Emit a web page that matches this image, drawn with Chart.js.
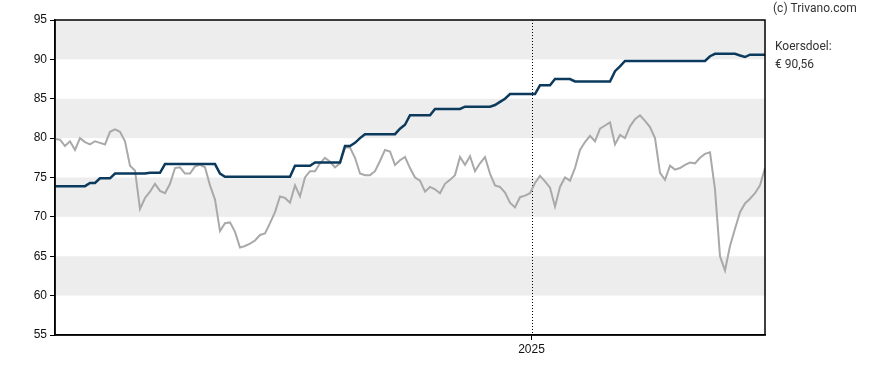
<!DOCTYPE html>
<html>
<head>
<meta charset="utf-8">
<script src="https://cdn.jsdelivr.net/npm/chart.js@4/dist/chart.umd.min.js"></script>
<style>
  html, body { margin: 0; padding: 0; background: #fff; }
  #wrap { width: 888px; height: 370px; position: relative; }
</style>
</head>
<body>
<div id="wrap"><canvas id="koersChart" width="888" height="370"></canvas></div>
<script>
// koers (grijs), één waarde per stap
var koers = [
    79.9, 79.8, 79.0, 79.6, 78.5, 80.0, 79.5, 79.2, 79.6, 79.4,
    79.2, 80.8, 81.1, 80.8, 79.6, 76.5, 75.9, 71.0, 72.4, 73.2,
    74.2, 73.3, 73.0, 74.2, 76.2, 76.3, 75.5, 75.5, 76.4, 76.6,
    76.3, 74.0, 72.2, 68.2, 69.2, 69.3, 68.1, 66.1, 66.3, 66.6,
    67.0, 67.7, 67.9, 69.2, 70.6, 72.6, 72.4, 71.8, 74.0, 72.6,
    75.0, 75.8, 75.8, 76.8, 77.5, 77.0, 76.3, 76.8, 78.8, 78.8,
    77.5, 75.5, 75.3, 75.3, 75.8, 77.1, 78.5, 78.3, 76.6, 77.2,
    77.6, 76.2, 75.0, 74.6, 73.2, 73.8, 73.5, 73.0, 74.2, 74.7,
    75.3, 77.6, 76.6, 77.7, 75.8, 76.8, 77.6, 75.5, 74.0, 73.8,
    73.1, 71.8, 71.2, 72.5, 72.7, 73.0, 74.3, 75.2, 74.5, 73.7,
    71.3, 73.8, 75.0, 74.6, 76.2, 78.5, 79.5, 80.3, 79.6, 81.2,
    81.6, 82.0, 79.2, 80.4, 80.0, 81.5, 82.4, 82.9, 82.2, 81.4,
    80.0, 75.6, 74.7, 76.5, 76.0, 76.2, 76.6, 76.9, 76.8, 77.5,
    78.0, 78.2, 73.5, 65.0, 63.2, 66.3, 68.5, 70.6, 71.7, 72.3,
    73.0, 74.0, 76.2
];

// koersdoel (donkerblauw)
var koersdoel = [
    73.9, 73.9, 73.9, 73.9, 73.9, 73.9, 73.9, 74.3, 74.3, 74.9,
    74.9, 74.9, 75.5, 75.5, 75.5, 75.5, 75.5, 75.5, 75.5, 75.6,
    75.6, 75.6, 76.7, 76.7, 76.7, 76.7, 76.7, 76.7, 76.7, 76.7,
    76.7, 76.7, 76.7, 75.5, 75.1, 75.1, 75.1, 75.1, 75.1, 75.1,
    75.1, 75.1, 75.1, 75.1, 75.1, 75.1, 75.1, 75.1, 76.5, 76.5,
    76.5, 76.5, 76.9, 76.9, 76.9, 76.9, 76.9, 76.9, 79.0, 79.0,
    79.4, 80.0, 80.5, 80.5, 80.5, 80.5, 80.5, 80.5, 80.5, 81.2,
    81.7, 82.9, 82.9, 82.9, 82.9, 82.9, 83.7, 83.7, 83.7, 83.7,
    83.7, 83.7, 84.0, 84.0, 84.0, 84.0, 84.0, 84.0, 84.2, 84.6,
    85.0, 85.6, 85.6, 85.6, 85.6, 85.6, 85.6, 86.7, 86.7, 86.7,
    87.5, 87.5, 87.5, 87.5, 87.2, 87.2, 87.2, 87.2, 87.2, 87.2,
    87.2, 87.2, 88.5, 89.1, 89.8, 89.8, 89.8, 89.8, 89.8, 89.8,
    89.8, 89.8, 89.8, 89.8, 89.8, 89.8, 89.8, 89.8, 89.8, 89.8,
    89.8, 90.4, 90.7, 90.7, 90.7, 90.7, 90.7, 90.5, 90.3, 90.6,
    90.6, 90.6, 90.6
];

var yTicks = [55, 60, 65, 70, 75, 80, 85, 90, 95];
var bands = [[60, 65], [70, 75], [80, 85], [90, 95]];
var jaarTicks = [{ value: 95.3, label: '2025' }];
var bron = '(c) Trivano.com';
var doelTekst = ['Koersdoel:', '€ 90,56'];

var labels = koers.map(function(v, i) { return i; });

var achtergrond = {
    id: 'achtergrond',
    beforeDraw: function(chart) {
        var ctx = chart.ctx, a = chart.chartArea, y = chart.scales.y, x = chart.scales.x;
        ctx.save();
        ctx.fillStyle = '#ededed';
        bands.forEach(function(b) {
            var t = y.getPixelForValue(b[1]), bo = y.getPixelForValue(b[0]);
            ctx.fillRect(a.left, t, a.right - a.left, bo - t);
        });
        // stippellijn bij jaargrens
        ctx.strokeStyle = '#000';
        ctx.lineWidth = 1;
        ctx.setLineDash([1, 2]);
        jaarTicks.forEach(function(t) {
            var px = Math.round(x.getPixelForValue(t.value)) + 0.5;
            ctx.beginPath();
            ctx.moveTo(px, a.top);
            ctx.lineTo(px, a.bottom);
            ctx.stroke();
        });
        ctx.restore();
    },
    afterDraw: function(chart) {
        var ctx = chart.ctx, a = chart.chartArea;
        ctx.save();
        ctx.strokeStyle = '#000';
        ctx.lineWidth = 1.5;
        ctx.strokeRect(a.left, a.top, a.right - a.left, a.bottom - a.top);
        ctx.fillStyle = '#333';
        ctx.font = '12px Roboto';
        ctx.textBaseline = 'middle';
        ctx.fillText(bron, 773, 9);
        ctx.fillText(doelTekst[0], 775, 47);
        ctx.fillText(doelTekst[1], 775, 65);
        ctx.restore();
    }
};

new Chart(document.getElementById('koersChart'), {
    type: 'line',
    data: {
        labels: labels,
        datasets: [{
            label: 'Koersdoel',
            data: koersdoel,
            borderColor: '#0b3a5c',
            borderWidth: 2.5,
            pointRadius: 0,
            tension: 0
        }, {
            label: 'Koers',
            data: koers,
            borderColor: '#a9a9a9',
            borderWidth: 2,
            pointRadius: 0,
            tension: 0
        }]
    },
    options: {
        responsive: false,
        animation: false,
        layout: { padding: { left: 0, top: 20, right: 123, bottom: 0 } },
        plugins: { legend: { display: false }, tooltip: { enabled: false } },
        scales: {
            x: {
                type: 'linear',
                min: 0,
                max: koers.length - 1,
                afterBuildTicks: function(s) {
                    s.ticks = jaarTicks.map(function(t) { return { value: t.value }; });
                },
                afterFit: function(s) { s.height = 35; },
                ticks: {
                    autoSkip: false,
                    maxRotation: 0,
                    color: '#111',
                    font: { family: 'Liberation Sans', size: 12 },
                    padding: 2,
                    callback: function(v) {
                        var t = jaarTicks.find(function(j) { return j.value === v; });
                        return t ? t.label : '';
                    }
                },
                grid: { drawOnChartArea: false, tickLength: 5, color: '#000' },
                border: { color: '#000', width: 1.5 }
            },
            y: {
                min: 55,
                max: 95,
                afterBuildTicks: function(s) {
                    s.ticks = yTicks.map(function(v) { return { value: v }; });
                },
                afterFit: function(s) { s.width = 55; },
                ticks: {
                    color: '#111',
                    font: { family: 'Liberation Sans', size: 12 },
                    padding: 3
                },
                grid: { drawOnChartArea: false, tickLength: 5, color: '#000' },
                border: { color: '#000', width: 1.5 }
            }
        }
    },
    plugins: [achtergrond]
});
</script>
</body>
</html>
